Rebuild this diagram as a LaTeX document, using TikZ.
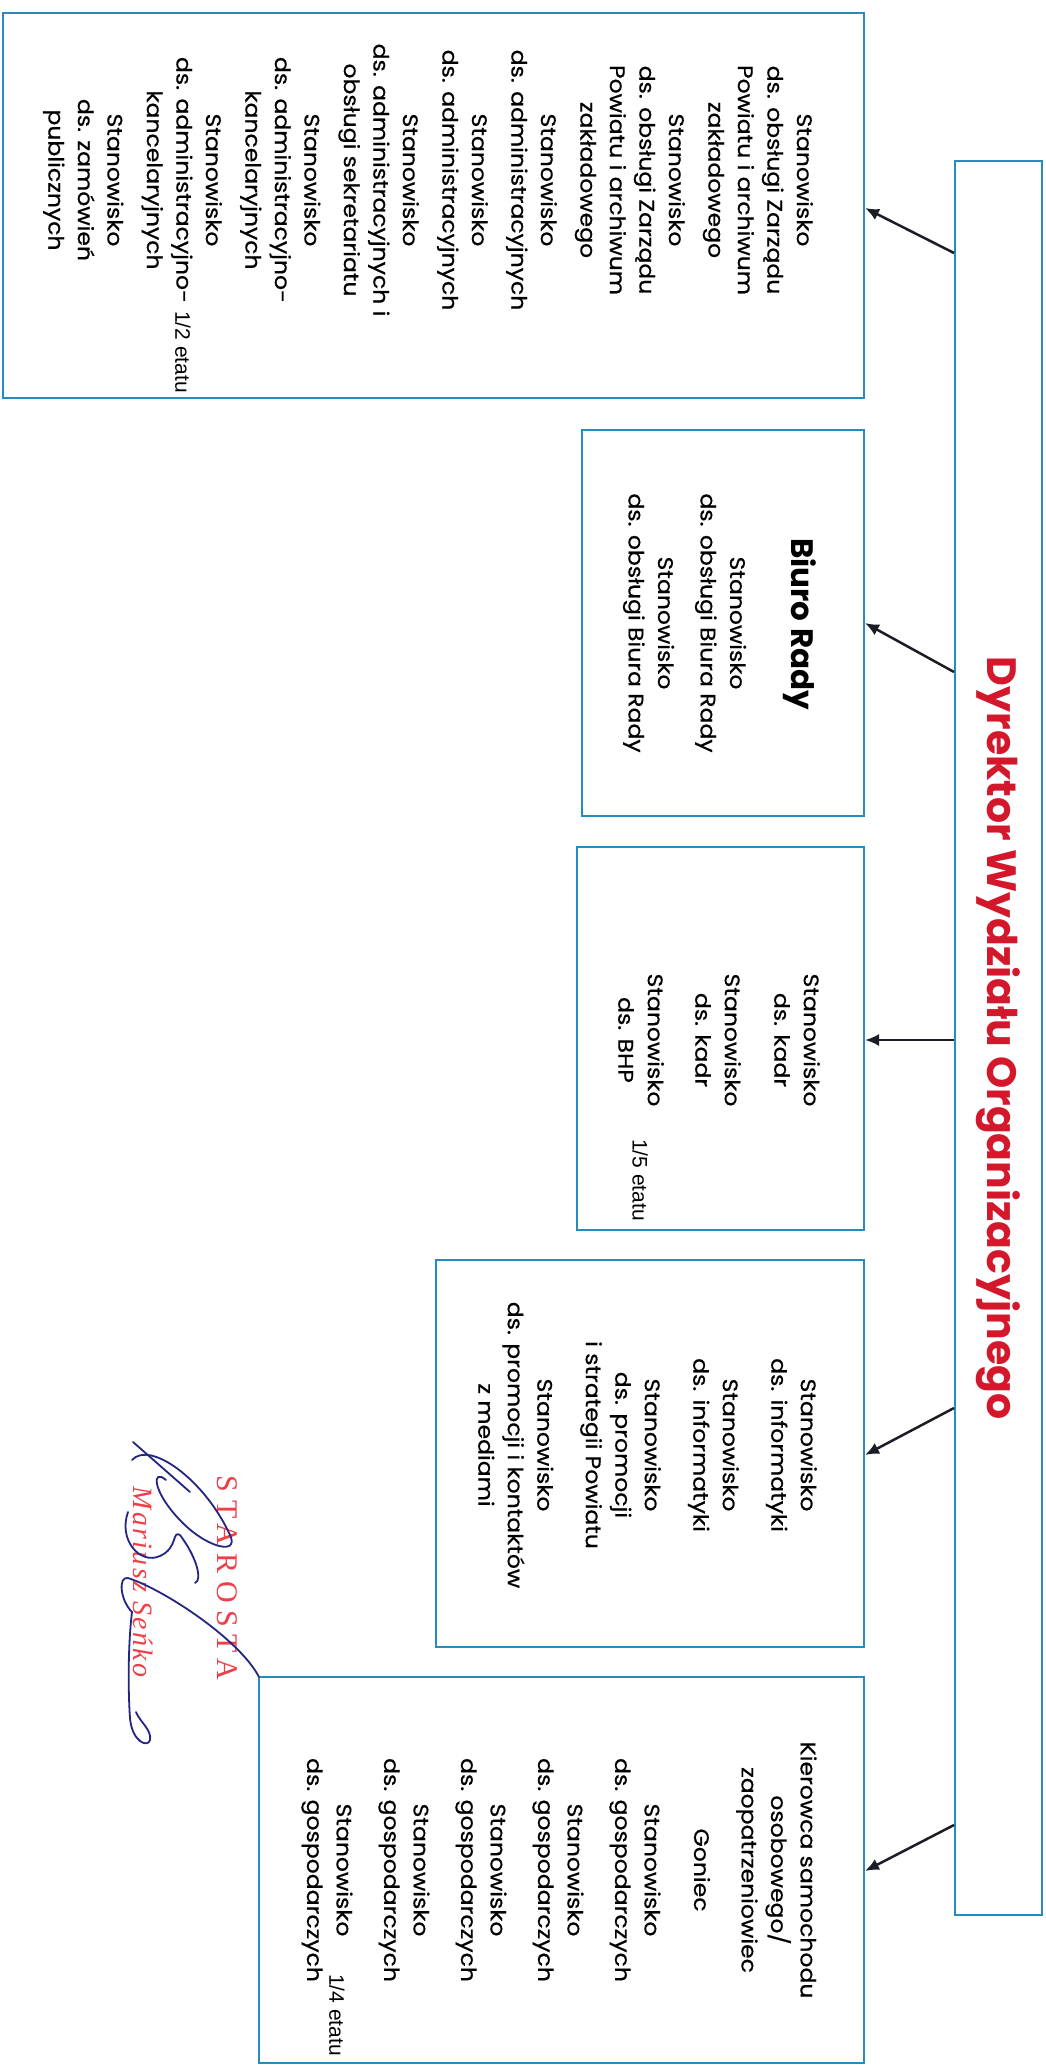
\documentclass[tikz,border=0pt]{standalone}
\usepackage{fontspec}
\setmainfont{Poppins}
\newfontfamily\bodyf{Poppins}[FakeStretch=1.12,FakeBold=0.6]
\newfontfamily\arialf{Liberation Sans}
\newfontfamily\serf{Liberation Serif}
\usetikzlibrary{arrows.meta,calc}
\definecolor{boxblue}{RGB}{38,140,192}
\definecolor{arrowc}{RGB}{28,28,38}
\definecolor{titlered}{RGB}{212,24,44}
\definecolor{stampred}{RGB}{240,62,72}
\definecolor{sigblue}{RGB}{36,36,130}
\begin{document}
\begin{tikzpicture}[x=1pt,y=-1pt,
  box/.style={draw=boxblue,line width=2pt,rectangle,inner sep=0pt},
  body/.style={rotate=-90,align=center,font=\bodyf\fontsize{21}{29.5}\selectfont,text=black,inner sep=0pt},
  note/.style={rotate=-90,font=\arialf\fontsize{21}{24}\selectfont,inner sep=0pt},
  arr/.style={draw=arrowc,line width=2.5pt,-{Latex[length=14pt,width=12pt]}},
  sig/.style={draw=sigblue,line width=1.8pt,line cap=round,line join=round}]

\useasboundingbox (0,0) rectangle (1045,2066);
\fill[white] (0,0) rectangle (1045,2066);

% boxes
\node[box,minimum width=87pt,minimum height=1754pt] (dir) at (998.5,1038) {};
\node[box,minimum width=861pt,minimum height=385pt] (b1) at (433.5,205.5) {};
\node[box,minimum width=282pt,minimum height=386pt] (b2) at (723,623) {};
\node[box,minimum width=287pt,minimum height=383pt] (b3) at (720.5,1038.5) {};
\node[box,minimum width=428pt,minimum height=387pt] (b4) at (650,1453.5) {};
\node[box,minimum width=605pt,minimum height=386pt] (b5) at (561.5,1870) {};

% title
\node[rotate=-90,inner sep=0pt,text=titlered,font=\bfseries\fontsize{41}{41}\selectfont] (title) at (dir.center) {Dyrektor Wydziału Organizacyjnego};

% texts
\node[body] (t1) at (428,180) {Stanowisko\\ds. obsługi Zarządu\\Powiatu i archiwum\\zakładowego\\[10pt]
Stanowisko\\ds. obsługi Zarządu\\Powiatu i archiwum\\zakładowego\\[10pt]
Stanowisko\\ds. administracyjnych\\[10pt]
Stanowisko\\ds. administracyjnych\\[10pt]
Stanowisko\\ds. administracyjnych i\\obsługi sekretariatu\\[10pt]
Stanowisko\\ds. administracyjno-\\kancelaryjnych\\[10pt]
Stanowisko\\ds. administracyjno-\\kancelaryjnych\\[10pt]
Stanowisko\\ds. zamówień\\publicznych};
\node[note] (n1) at (183,352) {1/2 etatu};

\node[rotate=-90,inner sep=0pt,font=\bfseries\fontsize{31}{31}\selectfont] (t2h) at (800,624) {Biuro Rady};
\node[body] (t2) at (684.5,623) {Stanowisko\\ds. obsługi Biura Rady\\[13pt]Stanowisko\\ds. obsługi Biura Rady};

\node[body] (t3) at (719,1040) {Stanowisko\\ds. kadr\\[20pt]Stanowisko\\ds. kadr\\[18pt]Stanowisko\\ds. BHP};
\node[note] (n3) at (640,1180) {1/5 etatu};

\node[body] (t4) at (647.5,1445) {Stanowisko\\ds. informatyki\\[19pt]Stanowisko\\ds. informatyki\\[19pt]Stanowisko\\ds. promocji\\i strategii Powiatu\\[19pt]Stanowisko\\ds. promocji i kontaktów\\z mediami};

\node[body] (t5) at (559,1870) {Kierowca samochodu\\osobowego/\\zaopatrzeniowiec\\[18pt]Goniec\\[20pt]Stanowisko\\ds. gospodarczych\\[18pt]Stanowisko\\ds. gospodarczych\\[18pt]Stanowisko\\ds. gospodarczych\\[18pt]Stanowisko\\ds. gospodarczych\\[18pt]Stanowisko\\ds. gospodarczych};
\node[note] (n5) at (337,2015) {1/4 etatu};

% arrows
\coordinate (s1) at (0,253); \coordinate (e1) at (0,208);
\coordinate (s2) at (0,672); \coordinate (e2) at (0,623);
\coordinate (s3) at (0,1040); \coordinate (e3) at (0,1040);
\coordinate (s4) at (0,1408); \coordinate (e4) at (0,1455);
\coordinate (s5) at (0,1825); \coordinate (e5) at (0,1871);
\draw[arr] (dir.west|-s1) -- (b1.east|-e1);
\draw[arr] (dir.west|-s2) -- (b2.east|-e2);
\draw[arr] (dir.west|-s3) -- (b3.east|-e3);
\draw[arr] (dir.west|-s4) -- (b4.east|-e4);
\draw[arr] (dir.west|-s5) -- (b5.east|-e5);

% stamp
\node[rotate=-90,inner sep=0pt,text=stampred,font=\serf\fontsize{30}{30}\selectfont\addfontfeatures{LetterSpace=26}] (stamp) at (227,1578) {STAROSTA};
\node[rotate=-90,inner sep=0pt,text=stampred,font=\serf\itshape\fontsize{28}{28}\selectfont\addfontfeatures{LetterSpace=8}] (name) at (143,1582) {Mariusz Seńko};

% signature
\draw[sig] (133,1442) -- (190,1492);
\draw[sig] (132,1460) .. controls (150,1440) and (205,1480) .. (230,1535) .. controls (240,1556) and (205,1548) .. (178,1518) .. controls (152,1490) and (152,1468) .. (166,1480);
\draw[sig] (128,1512) .. controls (118,1540) and (140,1565) .. (160,1556) .. controls (178,1548) and (172,1530) .. (180,1535) .. controls (196,1556) and (203,1580) .. (195,1583);
\draw[sig] (259,1677) .. controls (240,1640) and (165,1590) .. (128,1578) .. controls (118,1576) and (120,1600) .. (132,1612) .. controls (128,1645) and (128,1690) .. (130,1718) .. controls (132,1742) and (148,1748) .. (150,1740) .. controls (152,1730) and (140,1722) .. (136,1712);
\end{tikzpicture}
\end{document}
